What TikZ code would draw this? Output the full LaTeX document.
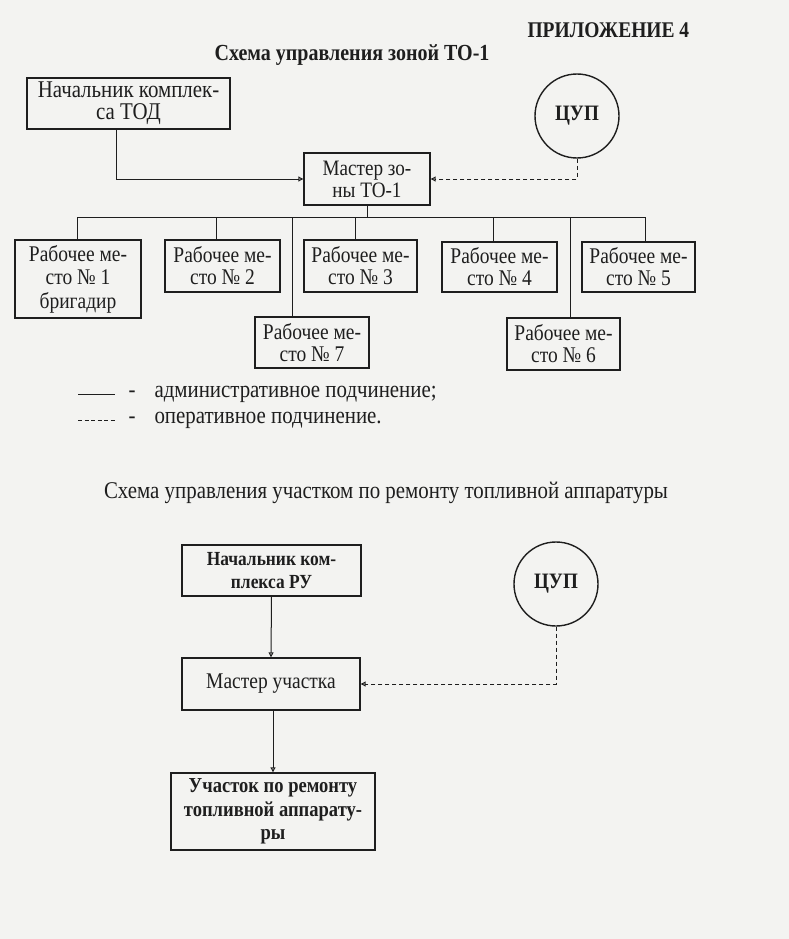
\documentclass[tikz,border=0pt]{standalone}
\usepackage{fontspec}
\setmainfont{Liberation Serif}[FakeStretch=0.87]
\usetikzlibrary{arrows.meta}
\definecolor{ink}{HTML}{1E1E1E}
\definecolor{paper}{HTML}{F3F3F1}
\begin{document}
\begin{tikzpicture}[x=1pt,y=-1pt,
  every node/.style={text=ink},
  box/.style={draw=ink,line width=1.4pt,align=center,inner sep=0pt,
    font=\fontsize{22.4}{22}\selectfont},
  circ/.style={draw=ink,line width=1.4pt,circle,minimum size=84pt,inner sep=0pt,
    font=\bfseries\fontsize{22}{22}\selectfont},
  conn/.style={draw=ink,line width=1pt},
  arr/.style={conn,-{Triangle[open,length=5pt,width=5pt]}},
  darr/.style={conn,dashed,dash pattern=on 4pt off 3pt,-{Triangle[open,length=5pt,width=5pt]}},
  txt/.style={font=\fontsize{24}{24}\selectfont}
]
\fill[paper] (0,0) rectangle (789,939);
\useasboundingbox (0,0) rectangle (789,939);

% headings
\node[font=\bfseries\fontsize{22.4}{22}\selectfont,anchor=west] (app) at (524,30) {ПРИЛОЖЕНИЕ 4};
\node[font=\bfseries\fontsize{23}{22}\selectfont] (t1) at (352,55) {Схема управления зоной ТО-1};

% top scheme
\node[box,minimum width=203pt,minimum height=51pt,font=\fontsize{24}{22}\selectfont] (nach) at (128.5,103.5) {Начальник комплек-\\са ТОД};
\node[circ] (cup1) at (577,116) {ЦУП};
\node[box,minimum width=126pt,minimum height=52pt,font=\fontsize{22}{22}\selectfont] (master) at (367,179) {Мастер зо-\\ны ТО-1};

\node[box,minimum width=126pt,minimum height=78pt,font=\fontsize{22.4}{23.5}\selectfont] (b1) at (78,279) {Рабочее ме-\\сто № 1\\бригадир};
\node[box,minimum width=115pt,minimum height=52pt] (b2) at (222.5,266) {Рабочее ме-\\сто № 2};
\node[box,minimum width=113pt,minimum height=52pt] (b3) at (360.5,266) {Рабочее ме-\\сто № 3};
\node[box,minimum width=115pt,minimum height=50pt] (b4) at (499.5,267) {Рабочее ме-\\сто № 4};
\node[box,minimum width=113pt,minimum height=50pt] (b5) at (638.5,267) {Рабочее ме-\\сто № 5};
\node[box,minimum width=114pt,minimum height=51pt] (b7) at (312,342.5) {Рабочее ме-\\сто № 7};
\node[box,minimum width=113pt,minimum height=52pt] (b6) at (563.5,344) {Рабочее ме-\\сто № 6};

\coordinate (busL) at (77,217);
\coordinate (busR) at (645,217);

\draw[arr] ([xshift=-12.5pt]nach.south) |- (master.west);
\draw[darr] (cup1.south) |- (master.east);
\draw[conn] (master.south) -- (master.south |- busL);
\draw[conn] (busL) -- (busR);
\draw[conn] ([xshift=-1pt]b1.north) -- ([xshift=-1pt]b1.north |- busL);
\draw[conn] ([xshift=-6.5pt]b2.north) -- ([xshift=-6.5pt]b2.north |- busL);
\draw[conn] ([xshift=-5.5pt]b3.north) -- ([xshift=-5.5pt]b3.north |- busL);
\draw[conn] ([xshift=-6.5pt]b4.north) -- ([xshift=-6.5pt]b4.north |- busL);
\draw[conn] ([xshift=6.5pt]b5.north) -- ([xshift=6.5pt]b5.north |- busR);
\draw[conn] ([xshift=-20pt]b7.north) -- ([xshift=-20pt]b7.north |- busL);
\draw[conn] ([xshift=6.5pt]b6.north) -- ([xshift=6.5pt]b6.north |- busL);

% legend
\coordinate (l1a) at (78,394); \coordinate (l1b) at (115,394);
\coordinate (l2a) at (78,420); \coordinate (l2b) at (115,420);
\draw[conn,line width=0.7pt] (l1a) -- (l1b);
\draw[conn,line width=0.7pt,dash pattern=on 4pt off 2.5pt] (l2a) -- (l2b);
\node[txt] (d1) at (132,394) {-};
\node[txt] (d2) at (132,420) {-};
\node[txt,anchor=west] (leg1) at (151,394) {административное подчинение;};
\node[txt,anchor=west] (leg2) at (151,420) {оперативное подчинение.};

% bottom scheme
\node[txt] (t2) at (386,493) {Схема управления участком по ремонту топливной аппаратуры};
\node[box,minimum width=179pt,minimum height=51pt,font=\bfseries\fontsize{20}{23}\selectfont] (nach2) at (271.5,570.5) {Начальник ком-\\плекса РУ};
\node[circ] (cup2) at (556,584) {ЦУП};
\node[box,minimum width=178pt,minimum height=52pt] (master2) at (271,684) {Мастер участка};
\node[box,minimum width=204pt,minimum height=77pt,font=\bfseries\fontsize{21.3}{23.5}\selectfont] (uch) at (273,811.5) {Участок по ремонту\\топливной аппарату-\\ры};

\draw[arr] (nach2.south) -- (master2.north);
\draw[arr] ([xshift=2pt]master2.south) -- ([xshift=2pt]master2.south |- uch.north);
\draw[darr] (cup2.south) |- (master2.east);
\end{tikzpicture}
\end{document}
